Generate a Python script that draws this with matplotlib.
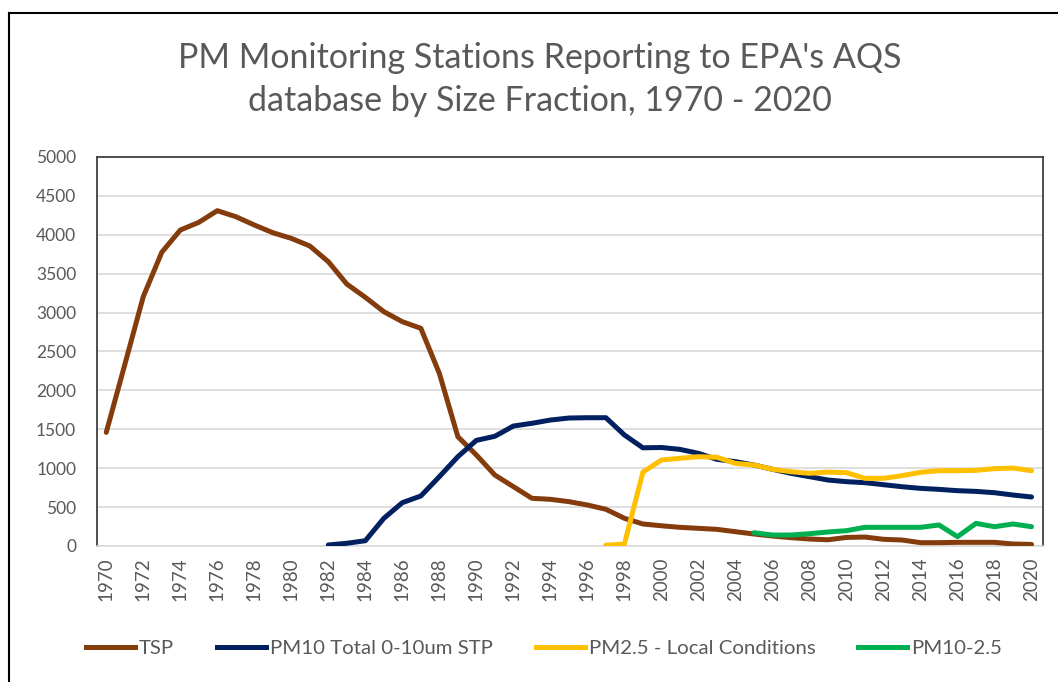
import matplotlib
matplotlib.use("Agg")
import matplotlib.pyplot as plt
from matplotlib.lines import Line2D
import numpy as np

years = list(range(1970, 2021))

tsp = [1460, 2330, 3205, 3775, 4061, 4160, 4310, 4233, 4126, 4027,
       3954, 3856, 3654, 3367, 3196, 3012, 2883, 2798, 2219, 1405,
       1170, 912, 763, 613, 600, 570, 527, 472, 356, 283,
       260, 240, 227, 214, 184, 154, 128, 107, 90, 80,
       110, 115, 86, 77, 43, 43, 47, 47, 47, 26,
       20]

pm10_years = list(range(1982, 2021))
pm10 = [13, 35, 68, 356, 557, 643, 891, 1148, 1358, 1410,
        1542, 1577, 1619, 1645, 1649, 1649, 1427, 1262, 1266, 1242,
        1191, 1114, 1084, 1041, 986, 934, 891, 848, 827, 814,
        788, 762, 741, 728, 711, 702, 685, 655, 630]

pm25_years = list(range(1997, 2021))
pm25 = [10, 25, 950, 1105, 1127, 1148, 1140, 1062, 1041, 986,
        955, 934, 950, 942, 870, 870, 904, 947, 968, 968,
        972, 994, 1002, 968]

pmc_years = list(range(2005, 2021))
pmc = [171, 141, 141, 158, 180, 197, 240, 240, 240, 240,
       270, 120, 291, 248, 283, 248]

series_names = ["TSP", "PM10 Total 0-10um STP", "PM2.5 - Local Conditions", "PM10-2.5"]
colors = ["#843C0C", "#002060", "#FFC000", "#00B050"]

title_lines = ["PM Monitoring Stations Reporting to EPA's AQS",
               "database by Size Fraction, 1970 - 2020"]

plt.rcParams['font.family'] = ['Lato', 'DejaVu Sans']

W, H = 1058, 682
fig = plt.figure(figsize=(W / 100, H / 100), dpi=100)
ax = fig.add_axes([97 / W, 1 - 546 / H, (1043 - 97) / W, (546 - 157) / H])

lw = 3.6
kw = dict(lw=lw, solid_joinstyle='round', solid_capstyle='round')
ax.plot(years, tsp, color=colors[0], zorder=3, **kw)
ax.plot(pm10_years, pm10, color=colors[1], zorder=4, **kw)
ax.plot(pm25_years, pm25, color=colors[2], zorder=5, **kw)
ax.plot(pmc_years, pmc, color=colors[3], zorder=6, **kw)

ax.set_xlim(1969.5, 2020.62)
ax.set_ylim(0, 5000)
ax.set_yticks(np.arange(0, 5001, 500))
ax.set_xticks(years[::2])
ax.set_xticklabels([str(y) for y in years[::2]], rotation=90, fontsize=13.5)
ax.set_yticklabels([str(v) for v in range(0, 5001, 500)], fontsize=12.5)
ax.grid(axis='y', color='#D9D9D9', lw=1.2, zorder=0)
ax.set_axisbelow(True)
ax.tick_params(axis='both', length=0, colors='#595959')
ax.tick_params(axis='x', pad=8)
ax.tick_params(axis='y', pad=15)
for s in ['left', 'top', 'right']:
    ax.spines[s].set_color('#404040')
    ax.spines[s].set_linewidth(1.3)
ax.spines['bottom'].set_color('#D9D9D9')
ax.spines['bottom'].set_linewidth(1.2)

fig.text(540 / W, 1 - 58 / H, title_lines[0], ha='center', va='center', fontsize=24.5, color='#595959')
fig.text(540 / W, 1 - 101 / H, title_lines[1], ha='center', va='center', fontsize=24.5, color='#595959')

handles = [Line2D([0], [0], color=c, lw=lw) for c in colors]
fig.legend(handles, series_names, loc='center', bbox_to_anchor=(544 / W, 1 - 648 / H),
           ncol=4, frameon=False, fontsize=14.7, handlelength=2.4, columnspacing=2.1,
           handletextpad=0.2, labelcolor='#595959')

# outer chart border (top and left visible)
fig.add_artist(Line2D([9 / W, 9 / W], [0, 1 - 13 / H], color='black', lw=1.5))
fig.add_artist(Line2D([9 / W, 1], [1 - 13 / H, 1 - 13 / H], color='black', lw=1.5))

fig.savefig("out.png", dpi=100)
